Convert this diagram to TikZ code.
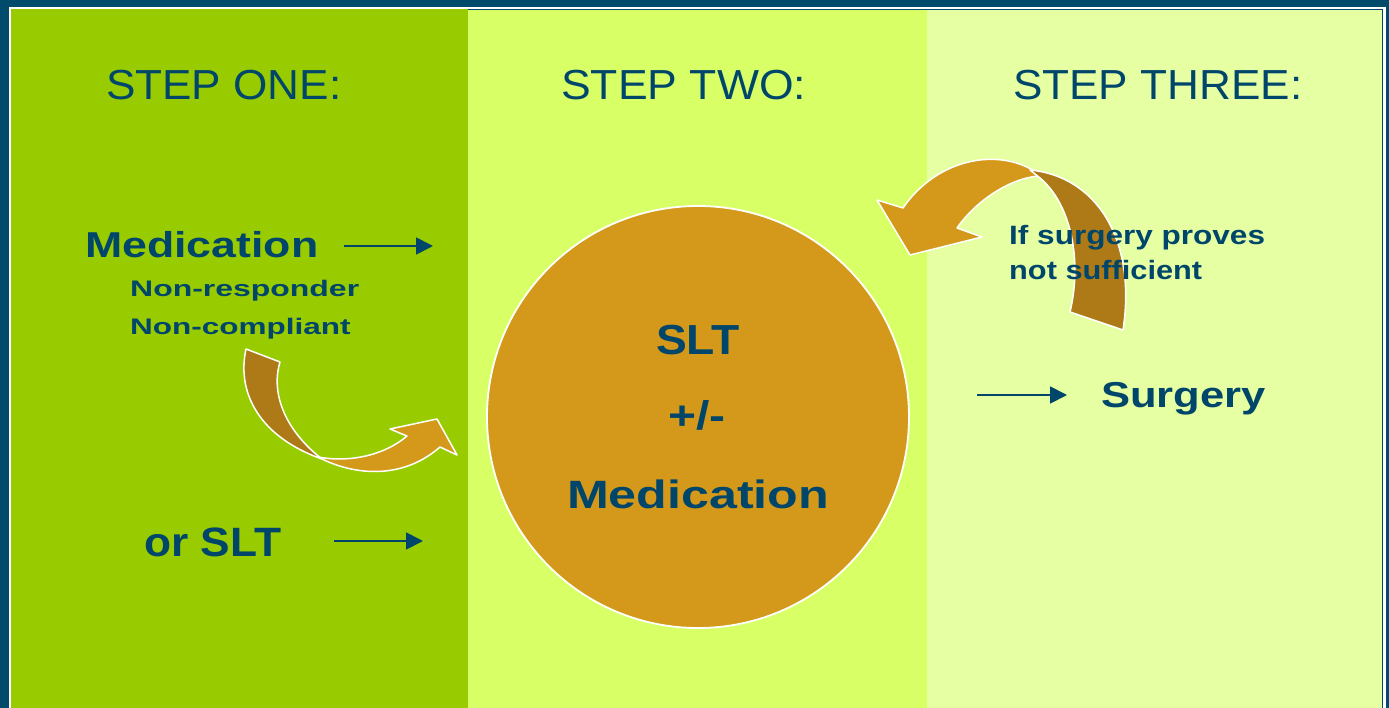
\documentclass[tikz,border=0pt]{standalone}
\usepackage{fontspec}
\setmainfont{Liberation Sans}
\usepackage{graphicx}
\usetikzlibrary{arrows.meta}
\definecolor{navy}{HTML}{004A6B}
\definecolor{txt}{HTML}{00466A}
\definecolor{pone}{HTML}{99CC00}
\definecolor{ptwo}{HTML}{D9FF66}
\definecolor{pthree}{HTML}{E6FFA3}
\definecolor{gold}{HTML}{D4991A}
\definecolor{bronze}{HTML}{AD7A17}
\newcommand{\sx}[2]{\scalebox{#1}[1]{#2}}
\tikzset{
  lbl/.style={anchor=base west, inner sep=0pt, text=txt},
  clbl/.style={anchor=base, inner sep=0pt, text=txt},
  hdr/.style={font=\fontsize{42}{48}\selectfont},
  bigtxt/.style={font=\fontsize{36}{42}\selectfont\bfseries},
  smalltxt/.style={font=\fontsize{22.5}{26}\selectfont\bfseries},
  midtxt/.style={font=\fontsize{26.5}{30}\selectfont\bfseries},
  flow/.style={draw=txt, line width=1.8pt, -{Triangle[length=17pt,width=17pt]}},
  ribbon/.style={draw=white, line width=1.5pt, line join=round},
}
\begin{document}
\begin{tikzpicture}[x=1pt,y=-1pt]
\useasboundingbox (0,0) rectangle (1389,708);
% frame and panels
\fill[navy] (0,0) rectangle (1389,708);
\fill[white] (9,7) rectangle (1386,708);
\fill[pone] (11,9) rectangle (468,708);
\fill[ptwo] (468,9) rectangle (927,708);
\fill[pthree] (927,9) rectangle (1383,708);
\draw[navy, line width=1pt] (468,9.5) -- (1382.5,9.5) -- (1382.5,708);

% headers
\node[lbl, hdr] (h1) at (106,100) {\sx{1.05}{STEP ONE:}};
\node[lbl, hdr] (h2) at (561,100) {\sx{1.06}{STEP TWO:}};
\node[lbl, hdr] (h3) at (1013,100) {\sx{1.05}{STEP THREE:}};

% central circle
\node[circle, fill=gold, draw=white, line width=1.8pt, minimum size=422pt, inner sep=0pt] (c) at (698,417) {};
\node[clbl, font=\fontsize{42}{48}\selectfont\bfseries] (cslt) at (698,355) {\sx{1.1}{SLT}};
\node[clbl, font=\fontsize{40}{46}\selectfont\bfseries] (cpm) at (697,429) {\sx{1.2}{+/-}};
\node[clbl, font=\fontsize{39.5}{46}\selectfont\bfseries] (cmed) at (698,508) {\sx{1.27}{Medication}};

% step one texts
\node[lbl, bigtxt] (med) at (85,258) {\sx{1.24}{Medication}};
\node[lbl, smalltxt] (nr) at (130,297) {\sx{1.42}{Non-responder}};
\node[lbl, smalltxt] (nc) at (130,335) {\sx{1.40}{Non-compliant}};
\node[lbl, font=\fontsize{41}{46}\selectfont\bfseries] (orslt) at (144,556) {\sx{1.08}{or SLT}};

\coordinate (m1) at (344,246);
\coordinate (m2) at (433,246);
\draw[flow] (m1) -- (m2);
\coordinate (s1) at (334,541);
\coordinate (s2) at (423,541);
\draw[flow] (s1) -- (s2);

% left ribbon arrow
\path[ribbon, fill=gold] (318,457) .. controls (350,474) and (400,482) .. (440,447)
  -- (457,455) -- (437,419) -- (390,429) -- (407,436)
  .. controls (385,455) and (350,463) .. (318,457) -- cycle;
\path[ribbon, fill=bronze] (246,349) .. controls (236,395) and (262,438) .. (322,459)
  .. controls (287,432) and (270,395) .. (280,362) -- cycle;

% right ribbon arrow
\path[ribbon, fill=gold] (1038,176) .. controls (1008,179) and (975,202) .. (957,228)
  -- (982,237) -- (910,255) -- (877,200) -- (903,208)
  .. controls (935,161) and (995,146) .. (1036,172) -- cycle;
\path[ribbon, fill=bronze] (1030,170) .. controls (1095,176) and (1137,238) .. (1123,330)
  -- (1070,312) .. controls (1082,262) and (1072,205) .. (1040,178) -- cycle;

% step three texts
\node[lbl, midtxt] (if1) at (1009,245) {\sx{1.19}{If surgery proves}};
\node[lbl, midtxt] (if2) at (1009,280) {\sx{1.16}{not sufficient}};
\node[lbl, bigtxt] (surg) at (1101,407) {\sx{1.21}{Surgery}};
\coordinate (g1) at (977,395);
\coordinate (g2) at (1067,395);
\draw[flow] (g1) -- (g2);
\end{tikzpicture}
\end{document}
